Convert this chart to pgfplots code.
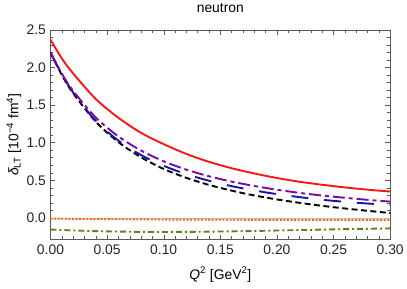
\documentclass[border=0pt]{standalone}
\usepackage{pgfplots}
\pgfplotsset{compat=1.18}
\usepackage{pgfplotstable}
\usepackage{fontspec}
\setmainfont{Liberation Sans}
\definecolor{cred}{RGB}{255,20,20}
\definecolor{cpurple}{RGB}{120,10,160}
\definecolor{cblue}{RGB}{20,20,170}
\definecolor{corange}{RGB}{255,100,20}
\definecolor{cgreen}{RGB}{85,135,20}
\pgfplotstableread{
q     red    purple  blue   black  orange  green
0.00  2.370  2.200   2.190  2.200  -0.010  -0.155
0.01  2.120  1.918   1.910  1.900  -0.011  -0.161
0.02  1.920  1.687   1.667  1.657  -0.013  -0.167
0.04  1.580  1.334   1.289  1.279  -0.016  -0.176
0.06  1.330  1.082   1.027  1.007  -0.018  -0.182
0.08  1.130  0.895   0.835  0.805  -0.020  -0.186
0.10  0.980  0.752   0.692  0.650  -0.022  -0.187
0.12  0.850  0.641   0.581  0.532  -0.023  -0.186
0.14  0.745  0.553   0.493  0.438  -0.024  -0.183
0.16  0.660  0.482   0.422  0.362  -0.025  -0.179
0.18  0.590  0.424   0.364  0.298  -0.026  -0.174
0.20  0.530  0.374   0.316  0.245  -0.027  -0.168
0.22  0.480  0.332   0.276  0.200  -0.028  -0.162
0.24  0.440  0.297   0.241  0.160  -0.028  -0.156
0.26  0.405  0.267   0.213  0.125  -0.029  -0.150
0.28  0.375  0.240   0.191  0.094  -0.029  -0.145
0.30  0.350  0.216   0.173  0.065  -0.030  -0.140
}\data
\begin{document}
\begin{tikzpicture}
\path (-50.7bp,-49.3bp) rectangle (356.3bp,237.7bp);
\begin{axis}[
  at={(0,0)}, anchor=south west,
  scale only axis,
  width=341.3bp, height=210.7bp,
  xmin=0, xmax=0.3, ymin=-0.287, ymax=2.5,
  xtick={0,0.05,...,0.3}, ytick={0,0.5,...,2.5},
  minor x tick num=4, minor y tick num=4,
  major tick length=5bp, minor tick length=3bp,
  tick style={gray!70!black, thin},
  axis line style={gray!70!black, thin},
  tick align=inside,
  /pgf/number format/assume math mode=true,
  xticklabel={\pgfmathprintnumber[fixed,fixed zerofill,precision=2]{\tick}},
  yticklabel={\pgfmathprintnumber[fixed,fixed zerofill,precision=1]{\tick}},
  tick label style={font=\fontsize{14}{16}\selectfont, text=black!85},
  xticklabel style={yshift=-2bp},
  yticklabel style={xshift=-1bp},
  title={neutron},
  title style={font=\fontsize{14}{16}\selectfont, at={(axis description cs:0.5,1.076)}, anchor=center},
  xlabel={\textit{Q}\textsuperscript{2} [GeV\textsuperscript{2}]},
  xlabel style={font=\fontsize{14}{16}\selectfont, at={(axis description cs:0.5,-0.1675)}, anchor=center},
  ylabel={\textit{δ}\textsubscript{LT} [10\textsuperscript{−4} fm\textsuperscript{4}]},
  ylabel style={font=\fontsize{14}{16}\selectfont, at={(axis description cs:-0.1075,0.5)}, anchor=center},
]
\addplot[gray!50, thin, forget plot] coordinates {(0,0) (0.3,0)};
\addplot[cgreen, line width=1.9bp, smooth, dash pattern=on 6bp off 3bp on 2bp off 3bp] table[x=q,y=green] {\data};
\addplot[corange, line width=1.9bp, smooth, dash pattern=on 2bp off 1.6bp] table[x=q,y=orange] {\data};
\addplot[black, line width=1.9bp, smooth, dash pattern=on 6bp off 3.5bp] table[x=q,y=black] {\data};
\addplot[cblue, line width=1.9bp, smooth, dash pattern=on 17bp off 16bp] table[x=q,y=blue] {\data};
\addplot[cpurple, line width=1.9bp, smooth, dash pattern=on 12bp off 4bp on 4bp off 4bp] table[x=q,y=purple] {\data};
\addplot[cred, line width=1.9bp, smooth] table[x=q,y=red] {\data};
\end{axis}
\end{tikzpicture}
\end{document}
